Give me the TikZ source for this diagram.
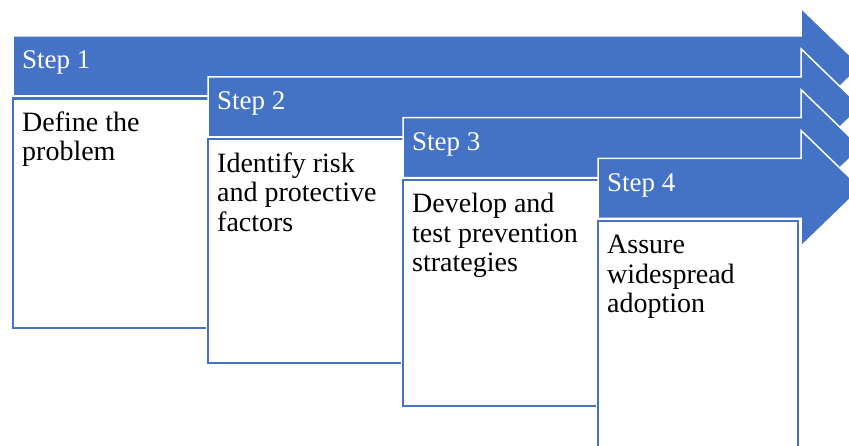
\documentclass[tikz,border=0pt]{standalone}
\usepackage{fontspec}
\setmainfont{Liberation Serif}
\usetikzlibrary{calc}
\definecolor{stepblue}{RGB}{68,114,196}
\tikzset{
  stepband/.style={fill=stepblue, draw=white, line width=1.5},
  stepbox/.style={fill=white, draw=stepblue, line width=2.4, preaction={draw=white, line width=5}},
  steplabel/.style={anchor=base west, inner sep=0, text=white, font=\fontsize{27}{29.5}\selectfont},
  steptext/.style={anchor=north west, inner sep=0, align=left, font=\fontsize{28}{29.5}\selectfont}
}
\begin{document}
\begin{tikzpicture}[x=1pt,y=-1pt]
\useasboundingbox (0,0) rectangle (849,446);
\clip (0,0) rectangle (849,446);
\foreach \i/\bot/\txt in {1/328/{Define the\\problem}, 2/363/{Identify risk\\and protective\\factors}, 3/406/{Develop and\\test prevention\\strategies}, 4/460/{Assure\\widespread\\adoption}} {
  \pgfmathsetmacro\xa{13+195*(\i-1)}
  \pgfmathsetmacro\ya{36+40.8*(\i-1)}
  \draw[stepband] (\xa,\ya) -- (801,\ya) -- (801,\ya-28) -- (861,\ya+30) -- (801,\ya+88) -- (801,\ya+60) -- (\xa,\ya+60) -- cycle;
  \node[steplabel] (head\i) at (\xa+9,\ya+33) {Step \i};
  \draw[stepbox] (\xa,\ya+62.5) rectangle (\xa+200,\bot);
  \node[steptext] (text\i) at (\xa+9,\ya+74.5) {\strut\txt};
}
\end{tikzpicture}
\end{document}
